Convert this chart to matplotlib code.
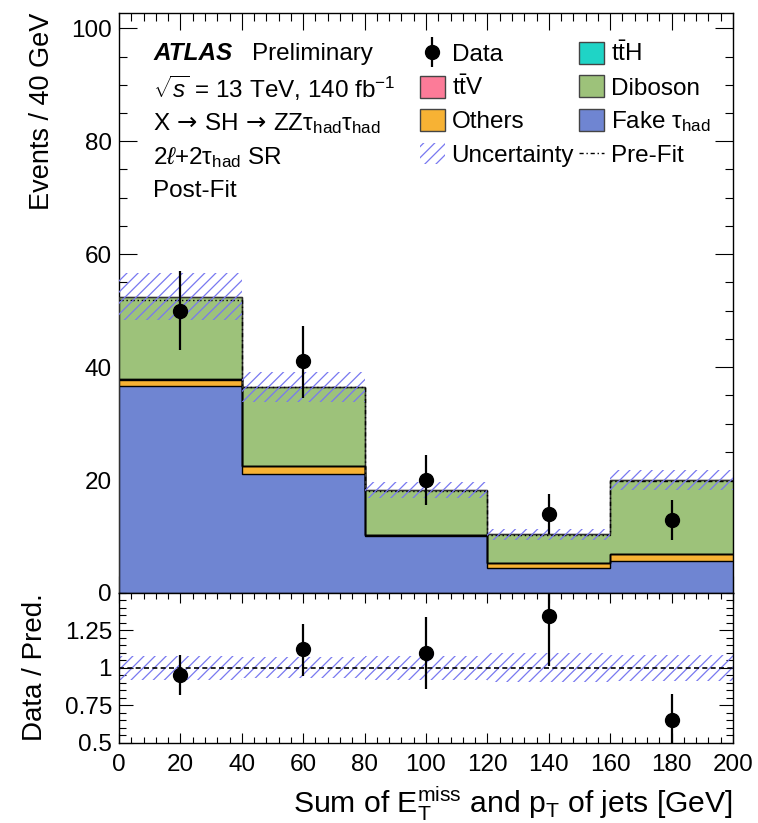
import numpy as np
import matplotlib
matplotlib.use("Agg")
import matplotlib.pyplot as plt
from matplotlib.patches import Patch
from matplotlib.lines import Line2D

plt.rcParams['font.family'] = ['Liberation Sans', 'DejaVu Sans']
plt.rcParams['mathtext.fontset'] = 'custom'
plt.rcParams['mathtext.rm'] = 'Liberation Sans'
plt.rcParams['mathtext.it'] = 'Liberation Sans:italic'
plt.rcParams['mathtext.bf'] = 'Liberation Sans:bold'
plt.rcParams['mathtext.sf'] = 'DejaVu Sans'
plt.rcParams['hatch.linewidth'] = 0.9

# ---------------- data ----------------
bin_edges = [0, 40, 80, 120, 160, 200]
fake_tau = [36.6, 21.1, 10.1, 4.4, 5.6]
others = [1.2, 1.3, 0.1, 0.9, 1.3]
ttV = [0.05, 0.05, 0.02, 0.02, 0.05]
ttH = [0.02, 0.02, 0.01, 0.01, 0.02]
diboson = [14.63, 14.03, 7.97, 5.07, 13.03]
prefit_total = [51.9, 36.4, 18.1, 10.3, 19.9]
uncertainty = [4.15, 2.6, 1.45, 1.0, 1.7]
data = [50, 41, 20, 14, 13]
data_err_up = [7.0, 6.3, 4.4, 3.6, 3.55]
data_err_down = [7.0, 6.4, 4.4, 3.5, 3.65]

x_ticks = [0, 20, 40, 60, 80, 100, 120, 140, 160, 180, 200]
y_ticks_main = [0, 20, 40, 60, 80, 100]
y_ticks_ratio = [0.5, 0.75, 1.0, 1.25]
y_ticklabels_ratio = ['0.5', '0.75', '1', '1.25']

colors = {
    'fake': '#6f85d2',
    'others': '#f7b234',
    'ttV': '#fc7b98',
    'ttH': '#1fd4c6',
    'diboson': '#9dc27a',
}
unc_color = '#7878f0'

edges = np.array(bin_edges, dtype=float)
centers = 0.5 * (edges[:-1] + edges[1:])

TICK_FS = 17.5
TEXT_FS = 17.5

fig = plt.figure(figsize=(7.58, 8.23), dpi=100)
ax = fig.add_axes([0.157, 0.2795, 0.810, 0.7051])
rax = fig.add_axes([0.157, 0.0976, 0.810, 0.1819], sharex=ax)

# stacked histogram
stack = [('fake', fake_tau), ('others', others), ('ttV', ttV), ('ttH', ttH), ('diboson', diboson)]
base = np.zeros(len(centers))
for key, vals in stack:
    v = np.array(vals, dtype=float)
    ax.stairs(base + v, edges, baseline=base, fill=True, facecolor=colors[key],
              edgecolor='none', zorder=2)
    ax.stairs(base + v, edges, baseline=None, color='black', linewidth=1.0, zorder=3)
    base = base + v
total = base.copy()

ax.stairs(total, edges, baseline=0, color='#333333', linewidth=0.8, zorder=3)

# prefit
ax.stairs(np.array(prefit_total), edges, baseline=None, color='black', linewidth=1.0,
          linestyle=(0, (3, 2, 1, 2)), zorder=4)

# uncertainty
unc = np.array(uncertainty)
ax.stairs(total + unc, edges, baseline=total - unc, fill=True, facecolor='none',
          edgecolor=unc_color, hatch='///', linewidth=0, zorder=5)

# data
d = np.array(data, dtype=float)
ax.errorbar(centers, d, yerr=[data_err_down, data_err_up], fmt='o', color='black',
            markersize=10, elinewidth=1.6, capsize=0, zorder=6)

ax.set_xlim(0, 200)
ax.set_ylim(0, 102.77)
ax.set_yticks(y_ticks_main)
ax.set_yticks(np.arange(0, 101, 5), minor=True)
ax.set_xticks(x_ticks)
ax.set_xticks(np.arange(0, 201, 4), minor=True)
ax.tick_params(axis='both', which='both', direction='in', top=True, right=True,
               width=0.8, labelsize=TICK_FS)
ax.tick_params(axis='x', which='major', length=12, labelbottom=False)
ax.tick_params(axis='x', which='minor', length=6)
ax.tick_params(axis='y', which='major', length=13, pad=5)
ax.tick_params(axis='y', which='minor', length=6)
ax.set_ylabel('Events / 40 GeV', fontsize=19.5, loc='top', labelpad=12)
for s in ax.spines.values():
    s.set_linewidth(1.0)

# text block
tx = 0.0554
ax.text(tx, 0.929, 'ATLAS', transform=ax.transAxes, fontsize=TEXT_FS, fontweight='bold',
        style='italic', va='center')
ax.text(0.2166, 0.929, 'Preliminary', transform=ax.transAxes, fontsize=TEXT_FS, va='center')
ax.text(tx, 0.869, r'$\sqrt{s}$ = 13 TeV, 140 fb$^{-1}$', transform=ax.transAxes,
        fontsize=TEXT_FS, va='center')
ax.text(tx, 0.809,
        r'X$\,\mathsf{\rightarrow}\,$SH$\,\mathsf{\rightarrow}\,$ZZτ$_{\mathrm{had}}$τ$_{\mathrm{had}}$',
        transform=ax.transAxes, fontsize=TEXT_FS, va='center')
ax.text(tx, 0.751, r'2$\ell$+2τ$_{\mathrm{had}}$ SR', transform=ax.transAxes,
        fontsize=TEXT_FS, va='center')
ax.text(tx, 0.693, 'Post-Fit', transform=ax.transAxes, fontsize=TEXT_FS, va='center')

# legend
h_data = (Line2D([], [], marker='|', color='black', markersize=22, markeredgewidth=1.6,
                 linestyle='none'),
          Line2D([], [], marker='o', color='black', markersize=10, linestyle='none'))
handles = [
    h_data,
    Patch(facecolor=colors['ttV'], edgecolor='#444444', linewidth=1),
    Patch(facecolor=colors['others'], edgecolor='#444444', linewidth=1),
    Patch(facecolor='none', edgecolor=unc_color, hatch='///', linewidth=0),
    Patch(facecolor=colors['ttH'], edgecolor='#444444', linewidth=1),
    Patch(facecolor=colors['diboson'], edgecolor='#444444', linewidth=1),
    Patch(facecolor=colors['fake'], edgecolor='#444444', linewidth=1),
    Line2D([], [], color='black', linewidth=1.0, linestyle=(0, (3, 2, 1, 2))),
]
labels = ['Data', r'$\mathrm{t\bar{t}V}$', 'Others', 'Uncertainty',
          r'$\mathrm{t\bar{t}H}$', 'Diboson', r'Fake τ$_{\mathrm{had}}$', 'Pre-Fit']
leg = ax.legend(handles, labels, ncol=2, loc='upper left', bbox_to_anchor=(0.474, 0.967),
                frameon=False, fontsize=TEXT_FS, handlelength=1.03, handleheight=1.0,
                handletextpad=0.28, columnspacing=0.2, labelspacing=0.38, borderaxespad=0,
                borderpad=0.4)

# ratio panel
ratio = d / total
r_up = np.array(data_err_up) / total
r_dn = np.array(data_err_down) / total
rel = unc / total
rax.stairs(1 + rel, edges, baseline=1 - rel, fill=True, facecolor='none',
           edgecolor=unc_color, hatch='///', linewidth=0, zorder=2)
rax.axhline(1.0, color='black', linewidth=1.2, linestyle=(0, (3, 2)), zorder=3)
rax.errorbar(centers, ratio, yerr=[r_dn, r_up], fmt='o', color='black',
             markersize=10, elinewidth=1.6, capsize=0, zorder=6, clip_on=True)
rax.set_ylim(0.5, 1.5)
rax.set_xlim(0, 200)
rax.set_yticks(y_ticks_ratio)
rax.set_yticklabels(y_ticklabels_ratio)
rax.set_yticks(np.arange(0.5, 1.501, 0.05), minor=True)
rax.set_xticks(x_ticks)
rax.set_xticklabels([str(t) for t in x_ticks])
rax.set_xticks(np.arange(0, 201, 4), minor=True)
rax.tick_params(axis='both', which='both', direction='in', top=True, right=True,
                width=0.8, labelsize=TICK_FS)
rax.tick_params(axis='x', which='major', length=7, pad=8)
rax.tick_params(axis='x', which='minor', length=4)
rax.tick_params(axis='y', which='major', length=10, pad=5)
rax.tick_params(axis='y', which='minor', length=5)
rax.set_ylabel('Data / Pred.', fontsize=20, loc='top', labelpad=12)
rax.set_xlabel(r'Sum of E$_{\mathrm{T}}^{\mathrm{miss}}$ and p$_{\mathrm{T}}$ of jets [GeV]',
               fontsize=21.7, loc='right', labelpad=6)
for s in rax.spines.values():
    s.set_linewidth(1.0)

fig.savefig('out.png', dpi=100)
